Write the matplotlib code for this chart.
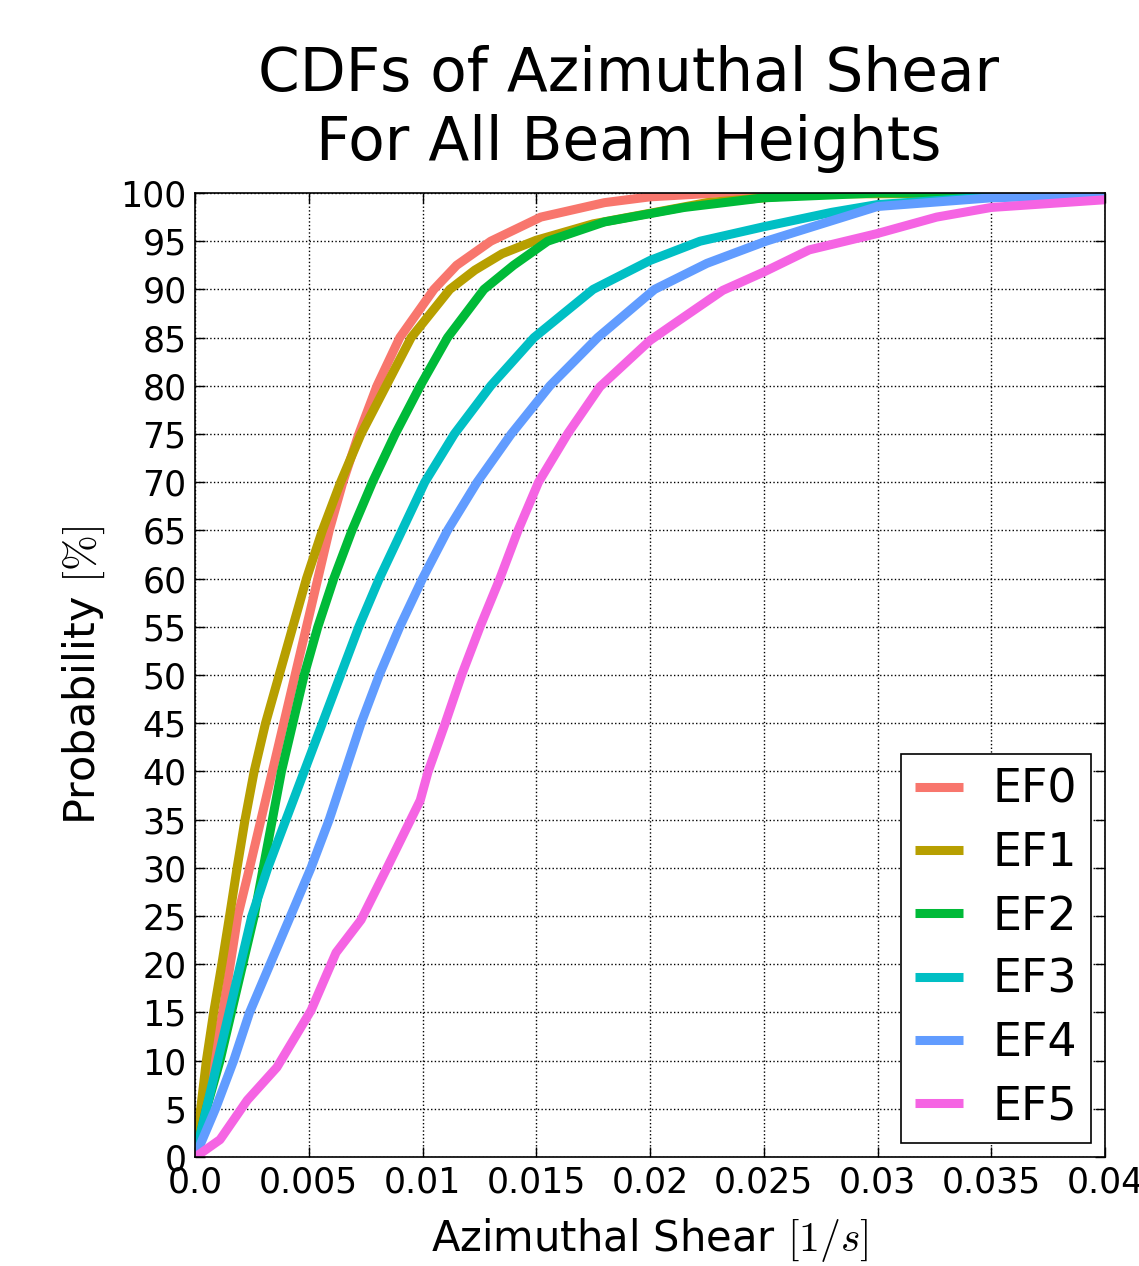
# CDFs of azimuthal shear for EF0..EF5, all beam heights
import matplotlib
matplotlib.use('Agg')
import matplotlib.pyplot as plt

plt.rcParams['mathtext.fontset'] = 'cm'
plt.rcParams['font.family'] = 'DejaVu Sans'

labels = ['EF0', 'EF1', 'EF2', 'EF3', 'EF4', 'EF5']
colors = ['#F8766D', '#B79F00', '#00BA38', '#00BFC4', '#619CFF', '#F564E3']

# values (shear in 1/s, probability in %)
ef0_x = [0, 0.0004, 0.0008, 0.00122, 0.00155, 0.00188, 0.0024, 0.0029, 0.0034, 0.0039,
         0.0044, 0.0049, 0.0054, 0.0059, 0.0065, 0.0072, 0.0080, 0.0090, 0.0105, 0.0115,
         0.0130, 0.0152, 0.0180, 0.0200, 0.0230, 0.04]
ef0_y = [0, 5, 10, 15, 20, 25, 30, 35, 40, 45, 50, 55, 60, 65, 70, 75, 80, 85, 90, 92.5,
         95, 97.5, 99, 99.6, 100, 100]

ef1_x = [0, 0.00025, 0.0005, 0.00082, 0.00118, 0.00152, 0.00185, 0.0022, 0.0026, 0.0031,
         0.0037, 0.0043, 0.0049, 0.0056, 0.0064, 0.0073, 0.0084, 0.0095, 0.0112, 0.0123,
         0.0135, 0.0150, 0.0175, 0.0200, 0.0225, 0.0250, 0.0270, 0.04]
ef1_y = [0, 5, 10, 15, 20, 25, 30, 35, 40, 45, 50, 55, 60, 65, 70, 75, 80, 85, 90, 92,
         93.7, 95.1, 96.8, 97.9, 99, 99.5, 99.9, 100]

ef2_x = [0, 0.0005, 0.0011, 0.0016, 0.0021, 0.0026, 0.0030, 0.0034, 0.0038, 0.0043,
         0.0048, 0.0054, 0.0061, 0.0069, 0.0078, 0.0088, 0.0099, 0.0111, 0.0127, 0.0140,
         0.0155, 0.0180, 0.0215, 0.0250, 0.0300, 0.04]
ef2_y = [0, 5, 10, 15, 20, 25, 30, 35, 40, 45, 50, 55, 60, 65, 70, 75, 80, 85, 90, 92.5,
         95, 97, 98.5, 99.5, 100, 100]

ef3_x = [0, 0.0005, 0.0010, 0.0015, 0.0020, 0.0025, 0.0032, 0.0040, 0.0048, 0.0056,
         0.0064, 0.0072, 0.0081, 0.0091, 0.0101, 0.0114, 0.0130, 0.0149, 0.0175, 0.0200,
         0.0222, 0.0250, 0.0280, 0.0300, 0.0350, 0.0390, 0.04]
ef3_y = [0, 5, 10, 15, 20, 25, 30, 35, 40, 45, 50, 55, 60, 65, 70, 75, 80, 85, 90, 93,
         95, 96.5, 98, 98.8, 99.6, 100, 100]

ef4_x = [0, 0.0009, 0.0017, 0.0024, 0.0033, 0.0042, 0.0051, 0.0059, 0.0066, 0.0073,
         0.0081, 0.0090, 0.0100, 0.0111, 0.0124, 0.0139, 0.0156, 0.0177, 0.0202, 0.0225,
         0.0251, 0.0300, 0.0350, 0.04]
ef4_y = [0, 5, 10, 15, 20, 25, 30, 35, 40, 45, 50, 55, 60, 65, 70, 75, 80, 85, 90, 92.7,
         95, 98.6, 99.5, 99.8]

ef5_x = [0, 0.0002, 0.0011, 0.0023, 0.0036, 0.0051, 0.0062, 0.0073, 0.0084, 0.0099,
         0.01025, 0.0110, 0.01172, 0.01253, 0.0134, 0.0142, 0.0151, 0.0164, 0.0178, 0.0200,
         0.0211, 0.0232, 0.0250, 0.0270, 0.0300, 0.0326, 0.0350, 0.04]
ef5_y = [0, 0.3, 1.8, 5.9, 9.3, 15.2, 21.2, 24.6, 29.8, 37, 40, 45, 50, 55, 60, 65, 70,
         75.1, 79.9, 84.7, 86.5, 89.9, 91.8, 94.1, 95.8, 97.5, 98.5, 99.3]

series_x = [ef0_x, ef1_x, ef2_x, ef3_x, ef4_x, ef5_x]
series_y = [ef0_y, ef1_y, ef2_y, ef3_y, ef4_y, ef5_y]

x_ticks = [0.0, 0.005, 0.01, 0.015, 0.02, 0.025, 0.03, 0.035, 0.04]
x_tick_labels = ['0.0', '0.005', '0.01', '0.015', '0.02', '0.025', '0.03', '0.035', '0.04']
y_ticks = list(range(0, 101, 5))

fig = plt.figure(figsize=(11.39, 12.66), dpi=100)
ax = fig.add_axes([195 / 1139, 1 - 1157 / 1266, 910 / 1139, 964 / 1266])

for xs, ys, lab, col in zip(series_x, series_y, labels, colors):
    ax.plot(xs, ys, color=col, lw=6.5, label=lab, solid_capstyle='butt',
            solid_joinstyle='round')

ax.set_xlim(0, 0.04)
ax.set_ylim(0, 100)
ax.set_xticks(x_ticks)
ax.set_xticklabels(x_tick_labels)
ax.set_yticks(y_ticks)
ax.tick_params(direction='in', length=7, width=1, labelsize=25, pad=6,
               top=True, right=True)
ax.grid(True, color='k', linestyle=':', lw=1)
for s in ax.spines.values():
    s.set_linewidth(1.2)

ax.set_xlabel('Azimuthal Shear $[1/s]$', fontsize=30, labelpad=12)
ax.set_ylabel('Probability $[\\%]$', fontsize=31, labelpad=10)

fig.text(629 / 1139, 1 - 109 / 1266, 'CDFs of Azimuthal Shear\nFor All Beam Heights',
         ha='center', va='center', fontsize=43, linespacing=1.2)

leg = ax.legend(loc='lower right', fontsize=33, handlelength=1.05, handletextpad=0.65,
                labelspacing=0.4, borderpad=0.3, borderaxespad=0.3,
                fancybox=False, framealpha=1, edgecolor='k')
leg.get_frame().set_linewidth(1.2)

plt.savefig('out.png', dpi=100)
